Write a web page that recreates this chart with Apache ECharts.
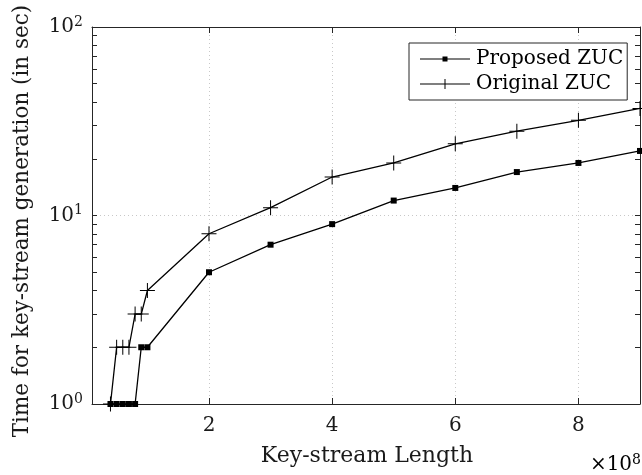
<!DOCTYPE html>
<html>
<head>
<meta charset="utf-8">
<script src="https://cdn.jsdelivr.net/npm/echarts@6/dist/echarts.min.js"></script>
<style>html,body{margin:0;padding:0;background:#fff}#c{width:642px;height:475px}</style>
</head>
<body>
<div id="c"></div>
<script>
// Key-stream length in units of 1e8
const xProposed = [0.4, 0.5, 0.6, 0.7, 0.8, 0.9, 1, 2, 3, 4, 5, 6, 7, 8, 9];
const yProposed = [1, 1, 1, 1, 1, 2, 2, 5, 7, 9, 12, 14, 17, 19, 22];
const xOriginal = [0.4, 0.5, 0.6, 0.7, 0.8, 0.9, 1, 2, 3, 4, 5, 6, 7, 8, 9];
const yOriginal = [1, 2, 2, 2, 3, 3, 4, 8, 11, 16, 19, 24, 28, 32, 37];
const seriesNames = ['Proposed ZUC', 'Original ZUC'];
const xTicks = [2, 4, 6, 8];
const yMajor = [1, 10, 100];
const yMinor = [2, 3, 4, 5, 6, 7, 8, 9, 20, 30, 40, 50, 60, 70, 80, 90];
const yGrid = [10];

const FONT = 'DejaVu Serif';
const TXT = '#1a1a1a';
const allYTicks = yMajor.concat(yMinor).sort((a, b) => a - b);
const zip = (xs, ys) => xs.map((x, i) => [x, ys[i]]);
const plusPath = 'path://M14,0 H16 V14 H30 V16 H16 V30 H14 V16 H0 V14 H14 Z';

const chart = echarts.init(document.getElementById('c'), null, {renderer: 'canvas'});
const axisLineStyle = {color: '#262626', width: 1};
const supRich = {
  b: {fontFamily: FONT, fontSize: 20, color: TXT, lineHeight: 24},
  s: {fontFamily: FONT, fontSize: 14, color: TXT, verticalAlign: 'top', lineHeight: 14, padding: [0, 0, 8, 0]}
};

chart.setOption({
  animation: false,
  backgroundColor: '#fff',
  grid: {left: 92, right: 2, top: 27, bottom: 71},
  xAxis: [
    {
      type: 'value', min: 0.1, max: 9, position: 'bottom',
      axisLine: {show: true, onZero: false, lineStyle: axisLineStyle},
      axisTick: {show: true, inside: true, length: 6, customValues: xTicks, lineStyle: axisLineStyle},
      axisLabel: {customValues: xTicks, margin: 12, fontFamily: FONT, fontSize: 20, color: TXT},
      splitLine: {show: true, lineStyle: {type: [1, 3], color: '#c8c8c8', width: 1}}
    },
    {
      type: 'value', min: 0.1, max: 9, position: 'top',
      axisLine: {show: true, onZero: false, lineStyle: axisLineStyle},
      axisTick: {show: true, inside: true, length: 6, customValues: xTicks, lineStyle: axisLineStyle},
      axisLabel: {show: false},
      splitLine: {show: false}
    }
  ],
  yAxis: [
    {
      type: 'log', logBase: 10, min: 1, max: 100, position: 'left',
      axisLine: {show: true, onZero: false, lineStyle: axisLineStyle},
      axisTick: {show: true, inside: true, length: 5, customValues: allYTicks, lineStyle: axisLineStyle},
      axisLabel: {
        customValues: yMajor, margin: 9,
        formatter: v => '{b|10}{s|' + Math.round(Math.log10(v)) + '}',
        rich: supRich
      },
      splitLine: {show: false}
    },
    {
      type: 'log', logBase: 10, min: 1, max: 100, position: 'right',
      axisLine: {show: true, onZero: false, lineStyle: axisLineStyle},
      axisTick: {show: true, inside: true, length: 5, customValues: allYTicks, lineStyle: axisLineStyle},
      axisLabel: {show: false},
      splitLine: {show: false}
    },
    {
      type: 'log', logBase: 10, min: 1, max: 100, position: 'left',
      axisLine: {show: false},
      axisTick: {show: false, customValues: yGrid},
      axisLabel: {show: false},
      splitLine: {show: true, lineStyle: {type: [1, 3], color: '#c8c8c8', width: 1}}
    }
  ],
  legend: {
    orient: 'vertical',
    left: 409, top: 43,
    backgroundColor: '#fff',
    borderColor: '#262626', borderWidth: 1, borderRadius: 0,
    padding: [5, 4, 5, 11],
    itemWidth: 50, itemHeight: 12, itemGap: 3,
    textStyle: {fontFamily: FONT, fontSize: 20, color: '#000', lineHeight: 22, padding: [0, 0, 0, 1]},
    data: [
      {name: seriesNames[0], icon: 'path://M0,0 M50,12 M0,5.5 H50 V6.5 H0 Z M22.5,3.5 H27.5 V8.5 H22.5 Z'},
      {name: seriesNames[1], icon: 'path://M0,0 M50,12 M0,5.5 H50 V6.5 H0 Z M24.5,1 H25.5 V11 H24.5 Z'}
    ]
  },
  series: [
    {
      name: seriesNames[0], type: 'line', xAxisIndex: 0, yAxisIndex: 0,
      data: zip(xProposed, yProposed),
      symbol: 'rect', symbolSize: 6,
      lineStyle: {color: '#000', width: 1.3},
      itemStyle: {color: '#000'},
      z: 3
    },
    {
      name: seriesNames[1], type: 'line', xAxisIndex: 0, yAxisIndex: 0,
      data: zip(xOriginal, yOriginal),
      symbol: plusPath, symbolSize: 15,
      lineStyle: {color: '#000', width: 1.3},
      itemStyle: {color: '#000'},
      z: 3
    }
  ],
  graphic: [
    {
      type: 'text', x: 367, y: 456,
      style: {text: 'Key-stream Length', fontFamily: FONT, fontSize: 22, fill: TXT, align: 'center', verticalAlign: 'middle'}
    },
    {
      type: 'text', x: 22, y: 221, rotation: Math.PI / 2,
      style: {text: 'Time for key-stream generation (in sec)', fontFamily: FONT, fontSize: 21.5, fill: TXT, align: 'center', verticalAlign: 'middle'}
    },
    {
      type: 'text', x: 641, y: 465,
      style: {
        text: '{x|\u00d7}{b|10}{s|8}', align: 'right', verticalAlign: 'middle',
        rich: {
          x: {fontFamily: FONT, fontSize: 20, color: TXT, lineHeight: 24},
          b: {fontFamily: FONT, fontSize: 20, color: TXT, lineHeight: 24},
          s: {fontFamily: FONT, fontSize: 14, color: TXT, verticalAlign: 'top', lineHeight: 14, padding: [0, 0, 8, 0]}
        }
      }
    }
  ]
});
</script>
</body>
</html>
